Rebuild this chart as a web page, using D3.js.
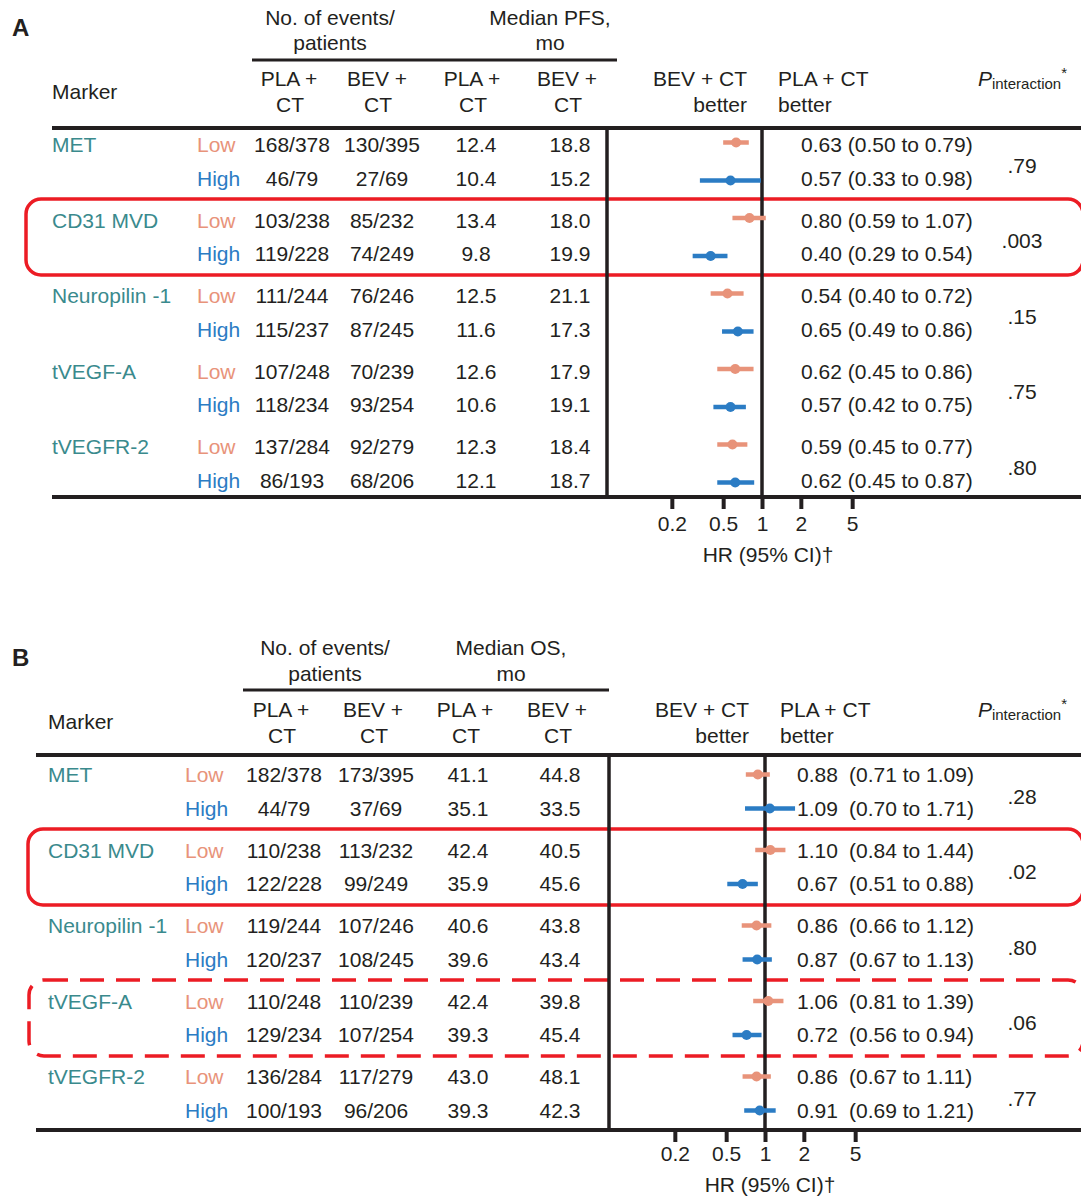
<!DOCTYPE html>
<html><head><meta charset="utf-8">
<script src="https://cdn.jsdelivr.net/npm/d3@7"></script>
<style>
body{margin:0;background:#fff}
svg{display:block}
text{font-family:"Liberation Sans",Arial,Helvetica,sans-serif;fill:#231f20}
</style>
</head><body>
<svg id="chart" width="1081" height="1196"></svg>
<script>
// ---------- data ----------
const markers = ["MET", "CD31 MVD", "Neuropilin -1", "tVEGF-A", "tVEGFR-2"];
const levels = ["Low", "High"];
const colHeaders = ["PLA +", "BEV +", "PLA +", "BEV +"];

const pfsEventsPLA = ["168/378","46/79","103/238","119/228","111/244","115/237","107/248","118/234","137/284","86/193"];
const pfsEventsBEV = ["130/395","27/69","85/232","74/249","76/246","87/245","70/239","93/254","92/279","68/206"];
const pfsMedianPLA = ["12.4","10.4","13.4","9.8","12.5","11.6","12.6","10.6","12.3","12.1"];
const pfsMedianBEV = ["18.8","15.2","18.0","19.9","21.1","17.3","17.9","19.1","18.4","18.7"];
const pfsHR    = [0.63,0.57,0.80,0.40,0.54,0.65,0.62,0.57,0.59,0.62];
const pfsLower = [0.50,0.33,0.59,0.29,0.40,0.49,0.45,0.42,0.45,0.45];
const pfsUpper = [0.79,0.98,1.07,0.54,0.72,0.86,0.86,0.75,0.77,0.87];
const pfsP = [".79",".003",".15",".75",".80"];

const osEventsPLA = ["182/378","44/79","110/238","122/228","119/244","120/237","110/248","129/234","136/284","100/193"];
const osEventsBEV = ["173/395","37/69","113/232","99/249","107/246","108/245","110/239","107/254","117/279","96/206"];
const osMedianPLA = ["41.1","35.1","42.4","35.9","40.6","39.6","42.4","39.3","43.0","39.3"];
const osMedianBEV = ["44.8","33.5","40.5","45.6","43.8","43.4","39.8","45.4","48.1","42.3"];
const osHR    = [0.88,1.09,1.10,0.67,0.86,0.87,1.06,0.72,0.86,0.91];
const osLower = [0.71,0.70,0.84,0.51,0.66,0.67,0.81,0.56,0.67,0.69];
const osUpper = [1.09,1.71,1.44,0.88,1.12,1.13,1.39,0.94,1.11,1.21];
const osP = [".28",".02",".80",".06",".77"];

const hrTicks = [0.2, 0.5, 1, 2, 5];

// ---------- styles ----------
const FS = 21;
const INK = "#231f20";
const TEAL = "#3a8a8d";
const LOWC = "#e8937a";
const HIGHC = "#2b7cc4";
const RED = "#ec1c24";

const svg = d3.select("#chart");

function panel(cfg, d) {
  const g = svg.append("g");
  const T = (x, y, s, opts = {}) => {
    const t = g.append("text").attr("x", x).attr("y", y + 0.35 * (opts.fs || FS))
      .attr("font-size", opts.fs || FS).attr("text-anchor", opts.anchor || "start").text(s);
    if (opts.fill) t.style("fill", opts.fill);
    if (opts.weight) t.attr("font-weight", opts.weight);
    return t;
  };
  // Panel label
  T(cfg.labelX, cfg.labelY, cfg.label, {fs: 24, weight: "bold"});
  // Group headers
  T(cfg.hdrEventsX, cfg.hdr1Y, "No. of events/", {anchor: "middle"});
  T(cfg.hdrEventsX, cfg.hdr2Y, "patients", {anchor: "middle"});
  T(cfg.hdrMedX, cfg.hdr1Y, d.endpoint, {anchor: "middle"});
  T(cfg.hdrMedX, cfg.hdr2Y, "mo", {anchor: "middle"});
  g.append("line").attr("x1", cfg.hdrLine[0]).attr("x2", cfg.hdrLine[1])
    .attr("y1", cfg.hdrLineY).attr("y2", cfg.hdrLineY).attr("stroke", INK).attr("stroke-width", 3);
  colHeaders.forEach((h, i) => {
    T(cfg.colHdrX[i], cfg.colHdr1Y, h, {anchor: "middle"});
    T(cfg.colHdrX[i] + 1, cfg.colHdr2Y, "CT", {anchor: "middle"});
  });
  T(cfg.markerX, cfg.markerHdrY, "Marker");
  T(cfg.betterL, cfg.colHdr1Y, "BEV + CT", {anchor: "end"});
  T(cfg.betterL, cfg.colHdr2Y, "better", {anchor: "end"});
  T(cfg.betterR, cfg.colHdr1Y, "PLA + CT");
  T(cfg.betterR, cfg.colHdr2Y, "better");
  const pt = g.append("text").attr("x", 1067).attr("y", cfg.colHdr1Y + 0.35 * FS)
    .attr("text-anchor", "end").attr("font-size", FS);
  pt.append("tspan").attr("font-style", "italic").text("P");
  pt.append("tspan").attr("font-size", 15).attr("dy", 3).text("interaction");
  pt.append("tspan").attr("font-size", 15).attr("dy", -11).text("*");

  // y positions
  const groupY = i => cfg.g0 + i * cfg.gstep;
  const rowY = (r, half) => groupY(Math.floor(r / 2)) + (r % 2 === 0 ? -half : half);

  // highlight boxes
  cfg.boxes.forEach(b => {
    const y0 = groupY(b.group) - b.h / 2;
    g.append("rect").attr("x", b.x).attr("y", y0).attr("width", 1083 - b.x).attr("height", b.h)
      .attr("rx", 15).attr("fill", "none").attr("stroke", RED).attr("stroke-width", 3.5)
      .attr("stroke-dasharray", b.dashed ? "24 12" : null);
  });

  // rules
  g.append("line").attr("x1", cfg.ruleX0).attr("x2", 1081).attr("y1", cfg.topRule).attr("y2", cfg.topRule)
    .attr("stroke", INK).attr("stroke-width", 4);
  g.append("line").attr("x1", cfg.ruleX0).attr("x2", 1081).attr("y1", cfg.bottomRule).attr("y2", cfg.bottomRule)
    .attr("stroke", INK).attr("stroke-width", 4);
  g.append("line").attr("x1", cfg.divX).attr("x2", cfg.divX).attr("y1", cfg.topRule).attr("y2", cfg.bottomRule)
    .attr("stroke", INK).attr("stroke-width", 3.5);

  // HR scale
  const span = Math.log10(5);
  const x = d3.scaleLog().domain([1 / 5, 5]).range([cfg.x1 - cfg.decade * span, cfg.x1 + cfg.decade * span]);
  g.append("line").attr("x1", x(1)).attr("x2", x(1)).attr("y1", cfg.topRule).attr("y2", cfg.bottomRule)
    .attr("stroke", INK).attr("stroke-width", 3.5);
  const ax = g.append("g").attr("transform", `translate(0,${cfg.bottomRule})`)
    .call(d3.axisBottom(x).tickValues(hrTicks).tickFormat(d3.format("")).tickSize(cfg.tickLen).tickPadding(6));
  ax.select(".domain").remove();
  ax.selectAll(".tick line").attr("stroke", INK).attr("stroke-width", 4);
  ax.selectAll(".tick text").attr("font-size", FS).attr("font-family", null).attr("fill", null)
    .attr("y", cfg.tickLabelY - cfg.bottomRule).attr("dy", 0.35 * FS);
  T(cfg.titleX, cfg.titleY, "HR (95% CI)\u2020", {anchor: "middle"});

  // rows
  for (let r = 0; r < 10; r++) {
    const y = rowY(r, cfg.textHalf);
    const lvl = r % 2;
    if (lvl === 0) T(cfg.markerX, y, markers[r / 2], {fill: TEAL});
    T(cfg.levelX, y, levels[lvl], {fill: lvl === 0 ? LOWC : HIGHC});
    T(cfg.colX[0], y, d.evPLA[r], {anchor: "middle"});
    T(cfg.colX[1], y, d.evBEV[r], {anchor: "middle"});
    T(cfg.colX[2], y, d.medPLA[r], {anchor: "middle"});
    T(cfg.colX[3], y, d.medBEV[r], {anchor: "middle"});
    const ci = `(${d.lo[r].toFixed(2)} to ${d.hi[r].toFixed(2)})`;
    if (cfg.ciX) {
      T(cfg.hrTextX, y, d.hr[r].toFixed(2));
      T(cfg.ciX, y, ci);
    } else {
      T(cfg.hrTextX, y, d.hr[r].toFixed(2) + " " + ci);
    }
    // forest mark
    const yd = rowY(r, cfg.dotHalf);
    const col = lvl === 0 ? LOWC : HIGHC;
    g.append("line").attr("x1", x(d.lo[r])).attr("x2", x(d.hi[r])).attr("y1", yd).attr("y2", yd)
      .attr("stroke", col).attr("stroke-width", 4.5);
    g.append("circle").attr("cx", x(d.hr[r])).attr("cy", yd).attr("r", 5).attr("fill", col);
  }
  // P values
  d.p.forEach((p, i) => T(cfg.pX, groupY(i) + cfg.pOff, p, {anchor: "middle"}));
}

panel({
  label: "A", labelX: 12, labelY: 28,
  hdr1Y: 18, hdr2Y: 43, hdrEventsX: 330, hdrMedX: 550, hdrLine: [252, 617], hdrLineY: 60,
  colHdrX: [289, 377, 472, 567], colHdr1Y: 79, colHdr2Y: 105, markerHdrY: 92,
  colX: [292, 382, 476, 570], markerX: 52, levelX: 197,
  betterL: 747, betterR: 778,
  topRule: 128, bottomRule: 497, ruleX0: 52, divX: 607,
  g0: 161.5, gstep: 75.5, textHalf: 16.75, dotHalf: 19,
  x1: 762, decade: 129, tickLen: 12, tickLabelY: 524, titleX: 768, titleY: 555,
  hrTextX: 801, ciX: null, pX: 1022, pOff: 4,
  boxes: [{group: 1, x: 26, h: 76, dashed: false}]
}, {endpoint: "Median PFS,", evPLA: pfsEventsPLA, evBEV: pfsEventsBEV, medPLA: pfsMedianPLA, medBEV: pfsMedianBEV,
    hr: pfsHR, lo: pfsLower, hi: pfsUpper, p: pfsP});

panel({
  label: "B", labelX: 12, labelY: 658,
  hdr1Y: 648, hdr2Y: 674, hdrEventsX: 325, hdrMedX: 511, hdrLine: [243, 609], hdrLineY: 690,
  colHdrX: [281, 373, 465, 557], colHdr1Y: 710, colHdr2Y: 736, markerHdrY: 722,
  colX: [284, 376, 468, 560], markerX: 48, levelX: 185,
  betterL: 749, betterR: 780,
  topRule: 755, bottomRule: 1130, ruleX0: 36, divX: 609,
  g0: 791.5, gstep: 75.5, textHalf: 16.75, dotHalf: 17,
  x1: 765, decade: 129, tickLen: 12, tickLabelY: 1154, titleX: 770, titleY: 1185,
  hrTextX: 797, ciX: 849, pX: 1022, pOff: 5,
  boxes: [{group: 1, x: 28, h: 76, dashed: false}, {group: 3, x: 29, h: 76, dashed: true}]
}, {endpoint: "Median OS,", evPLA: osEventsPLA, evBEV: osEventsBEV, medPLA: osMedianPLA, medBEV: osMedianBEV,
    hr: osHR, lo: osLower, hi: osUpper, p: osP});
</script>
</body></html>
